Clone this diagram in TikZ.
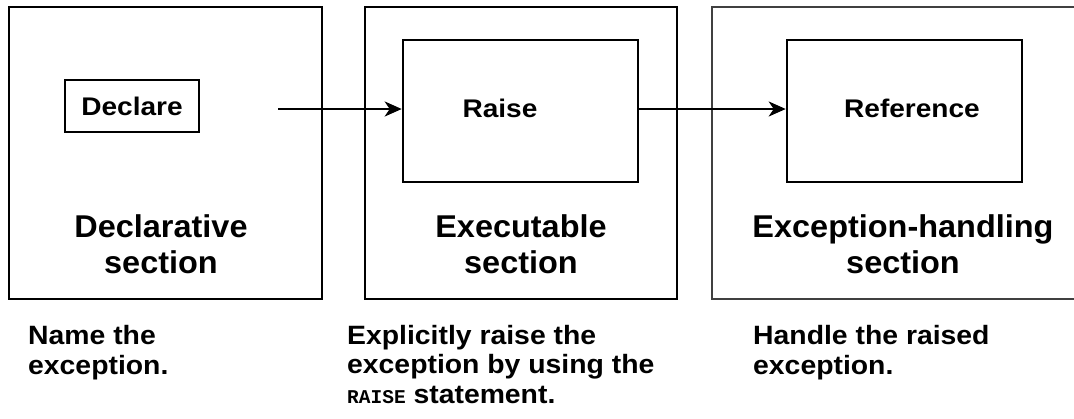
\documentclass[tikz,border=0pt]{standalone}
\usepackage{fontspec}
\setmainfont{Liberation Sans}
\newfontfamily\innerf[FakeStretch=1.1]{Liberation Sans}
\newfontfamily\secf[FakeStretch=1.03]{Liberation Sans}
\newfontfamily\notef[FakeStretch=1.07]{Liberation Sans}
\newfontfamily\codef{Liberation Mono}
\usetikzlibrary{arrows.meta}
\tikzset{
  outerbox/.style={draw=black, line width=2.6pt, inner sep=0pt},
  innerbox/.style={draw=black, line width=2.6pt, inner sep=0pt},
  innerlabel/.style={font=\innerf\bfseries\fontsize{25.5}{28}\selectfont, inner sep=0pt},
  seclabel/.style={font=\secf\bfseries\fontsize{31.5}{36}\selectfont, align=center, inner sep=0pt, anchor=base},
  note/.style={font=\notef\bfseries\fontsize{26.5}{29.5}\selectfont, align=left, inner sep=0pt, anchor=base west},
  flow/.style={line width=2.4pt, -{Stealth[length=17pt,width=15pt,inset=5pt]}},
}
\begin{document}
\begin{tikzpicture}[x=1pt,y=-1pt]
\useasboundingbox (0,0) rectangle (1074,418);
% outer sections
\node[outerbox, minimum width=313pt, minimum height=292pt] (decl) at (165.5,153) {};
\node[outerbox, minimum width=312pt, minimum height=292pt] (exec) at (521,153) {};
\draw[line width=1.4pt, draw=black!75] (1076,7) -- (712,7) -- (712,299) -- (1076,299);
\coordinate (exch) at (893,153);
% inner boxes
\node[innerbox, minimum width=134pt, minimum height=52pt, innerlabel] (declare) at (132,106) {Declare};
\node[innerbox, minimum width=235pt, minimum height=142pt] (raise) at (520.5,111) {};
\node[innerlabel] (raiset) at (500,108) {Raise};
\node[innerbox, minimum width=235pt, minimum height=142pt] (ref) at (904.5,111) {};
\node[innerlabel] (reft) at (912,108) {Reference};
% connectors
\coordinate (start) at (278,109);
\draw[flow] (start) -- (start -| raise.west);
\draw[flow] (raise.east |- start) -- (start -| ref.west);
% section labels
\node[seclabel] (decllab) at (161,273) {Declarative\\section};
\node[seclabel] (execlab) at (521,273) {Executable\\section};
\node[seclabel] (exchlab) at (903,273) {Exception-handling\\section};
% notes
\node[note] (n1) at (28,374) {Name the\\exception.};
\node[note] (n2) at (347,403) {Explicitly raise the\\exception by using the\\{\codef\bfseries\fontsize{19.5}{29.5}\selectfont RAISE} statement.};
\node[note] (n3) at (753,374) {Handle the raised\\exception.};
\end{tikzpicture}
\end{document}
